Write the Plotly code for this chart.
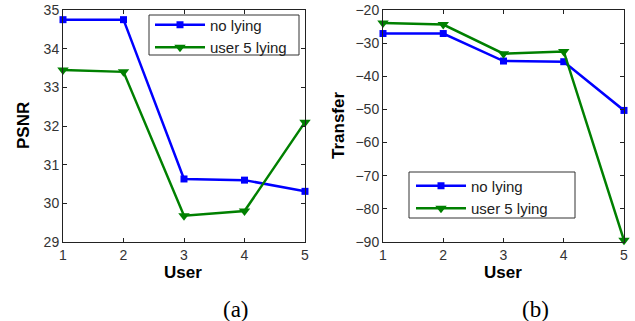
import plotly.graph_objects as go

users = [1, 2, 3, 4, 5]
psnr_no_lying = [34.75, 34.75, 30.63, 30.60, 30.31]
psnr_user5_lying = [33.45, 33.40, 29.68, 29.80, 32.10]
transfer_no_lying = [-27.1, -27.1, -35.4, -35.6, -50.3]
transfer_user5_lying = [-23.9, -24.4, -33.2, -32.5, -89.5]
series_names = ["no lying", "user 5 lying"]

W, H = 635, 321
BLUE = "#0000ff"
GREEN = "#008000"

fig = go.Figure()

def add(x, y, name, color, symbol, xa, ya, leg, msize):
    fig.add_trace(go.Scatter(
        x=x, y=y, name=name, mode="lines+markers", cliponaxis=False,
        line=dict(color=color, width=2.5),
        marker=dict(symbol=symbol, size=msize, color=color),
        xaxis=xa, yaxis=ya, legend=leg))

add(users, psnr_no_lying, series_names[0], BLUE, "square", "x", "y", "legend2", 7)
add(users, psnr_user5_lying, series_names[1], GREEN, "triangle-down", "x", "y", "legend2", 10)
add(users, transfer_no_lying, series_names[0], BLUE, "square", "x2", "y2", "legend3", 7)
add(users, transfer_user5_lying, series_names[1], GREEN, "triangle-down", "x2", "y2", "legend3", 10)

def px(v):
    return v / W

def py(v):
    return 1 - v / H

axis_common = dict(showline=True, mirror="ticks", linecolor="#222", linewidth=1,
                   ticks="inside", ticklen=4, tickcolor="#222", showgrid=False,
                   zeroline=False, automargin=False,
                   tickfont=dict(family="Liberation Sans", size=14, color="#333"))
title_font = dict(family="Liberation Sans", size=17, color="#000", weight="bold")
leg_font = dict(family="Liberation Sans", size=15, color="#222")

def box(x0, y0, x1, y1):
    return dict(type="rect", xref="paper", yref="paper", layer="above",
                x0=px(x0), x1=px(x1), y0=py(y1), y1=py(y0),
                fillcolor="white", line=dict(color="#333", width=1))

def label(text, x, y, font, angle=0):
    return dict(text=text, x=px(x), y=py(y), xref="paper", yref="paper",
                xanchor="center", yanchor="middle", textangle=angle,
                showarrow=False, font=font)

caption_font = dict(family="Liberation Serif", size=23, color="#000")

legend_common = dict(xanchor="left", yanchor="top", bgcolor="rgba(0,0,0,0)", borderwidth=0,
                     font=leg_font, itemwidth=50, tracegroupgap=0, traceorder="normal",
                     orientation="v")

fig.update_layout(
    width=W, height=H, margin=dict(l=0, r=0, t=0, b=0),
    paper_bgcolor="white", plot_bgcolor="white", showlegend=True,
    xaxis=dict(domain=[px(63), px(305)], range=[1, 5], dtick=1, anchor="y", **axis_common),
    yaxis=dict(domain=[py(242), py(10)], range=[29, 35], dtick=1, anchor="x", **axis_common),
    xaxis2=dict(domain=[px(383), px(624)], range=[1, 5], dtick=1, anchor="y2", **axis_common),
    yaxis2=dict(domain=[py(242), py(10)], range=[-90, -20], dtick=10, anchor="x2", **axis_common),
    legend2=dict(x=px(150), y=py(8.5), **legend_common),
    legend3=dict(x=px(411), y=py(169.5), **legend_common),
    shapes=[box(149, 15, 299, 55), box(409, 172, 575, 218)],
    annotations=[
        label("PSNR", 23, 126, title_font, -90),
        label("Transfer", 338, 126, title_font, -90),
        label("User", 183, 272, title_font),
        label("User", 503, 272, title_font),
        label("(a)", 236, 309, caption_font),
        label("(b)", 535, 309, caption_font),
    ],
)

fig.write_html("out.html", config={"displayModeBar": False},
               post_script="document.body.style.margin='0';document.body.style.overflow='hidden';")
